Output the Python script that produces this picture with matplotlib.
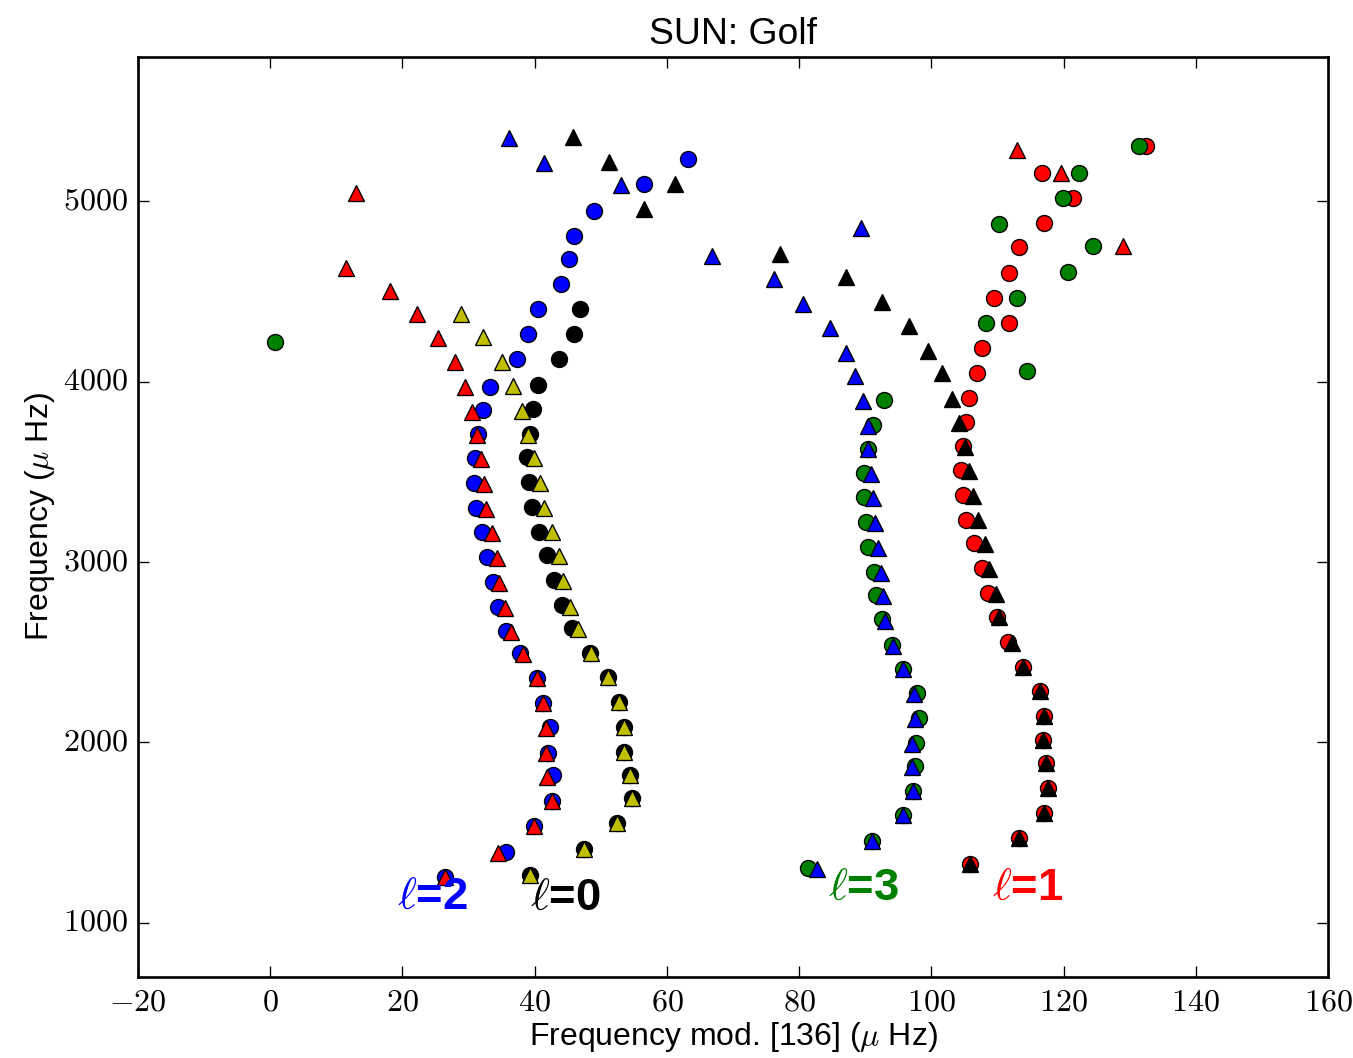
import matplotlib
matplotlib.use('Agg')
import matplotlib.pyplot as plt
from matplotlib.ticker import FuncFormatter, MultipleLocator

# l=0 : circles (black) and triangles (yellow)
l0_obs_x = [39.3, 47.5, 52.5, 54.7, 54.4, 53.5, 53.5, 52.8, 51.1, 48.4, 45.6, 44.1,
            42.9, 41.9, 40.7, 39.6, 39.1, 38.8, 39.3, 39.7, 40.5, 43.7, 45.9, 46.9]
l0_obs_y = [1265, 1410, 1554, 1692, 1820, 1947, 2086, 2224, 2363, 2496, 2635, 2762,
            2901, 3039, 3167, 3305, 3444, 3582, 3710, 3849, 3981, 4126, 4264, 4403]
l0_mod_x = [39.3, 47.5, 52.5, 54.7, 54.4, 53.5, 53.5, 52.8, 51.1, 48.5, 46.6, 45.3,
            44.3, 43.7, 42.6, 41.4, 40.8, 39.9, 39.0, 38.1, 36.7, 35.1, 32.2, 28.9]
l0_mod_y = [1265, 1410, 1554, 1692, 1820, 1947, 2086, 2224, 2363, 2496, 2629, 2751,
            2895, 3034, 3167, 3300, 3438, 3577, 3704, 3840, 3974, 4109, 4248, 4375]

# l=1 : circles (red) and triangles (black)
l1_obs_x = [105.9, 113.3, 117.0, 117.6, 117.3, 116.9, 117.0, 116.4, 113.9, 111.6,
            109.9, 108.6, 107.7, 106.5, 105.2, 104.8, 104.5, 104.8, 105.2, 105.7,
            106.9, 107.7, 111.8, 109.5, 111.8, 113.3, 117.0, 121.4, 116.7, 132.5]
l1_obs_y = [1326, 1471, 1609, 1748, 1886, 2014, 2147, 2285, 2418, 2557,
            2696, 2829, 2967, 3106, 3233, 3372, 3510, 3643, 3777, 3910,
            4048, 4187, 4325, 4464, 4602, 4747, 4880, 5018, 5157, 5306]
l1_mod_x = [105.9, 113.3, 117.0, 117.6, 117.3, 116.9, 117.0, 116.4, 113.9, 112.2,
            110.2, 109.8, 108.7, 108.1, 107.1, 106.3, 105.7, 105.1, 104.2, 103.1,
            101.6, 99.5, 96.6, 92.5, 87.1, 77.1, 56.5, 61.2, 51.2, 45.8]
l1_mod_y = [1326, 1471, 1609, 1748, 1886, 2014, 2147, 2285, 2418, 2551,
            2696, 2823, 2962, 3100, 3233, 3366, 3505, 3638, 3771, 3904,
            4048, 4170, 4309, 4442, 4580, 4708, 4957, 5096, 5218, 5356]

# l=2 : circles (blue) and triangles (red)
l2_obs_x = [26.4, 35.7, 39.9, 42.6, 42.8, 42.0, 42.3, 41.3, 40.4, 37.8, 35.7, 34.5,
            33.7, 32.8, 32.0, 31.1, 30.8, 31.0, 31.4, 32.2, 33.2, 37.3, 39.0, 40.5,
            44.0, 45.2, 45.9, 49.0, 56.5, 63.2]
l2_obs_y = [1254, 1393, 1537, 1676, 1820, 1942, 2086, 2219, 2357, 2496, 2618, 2751,
            2890, 3028, 3167, 3300, 3438, 3577, 3710, 3843, 3971, 4126, 4264, 4403,
            4541, 4680, 4808, 4946, 5096, 5234]
l2_mod_x = [26.4, 34.5, 39.9, 42.6, 41.9, 41.7, 41.7, 41.3, 40.4, 38.2, 36.4, 35.5,
            34.6, 34.3, 33.5, 32.6, 32.3, 31.9, 31.3, 30.5, 29.5, 28.0, 25.4, 22.2,
            18.1, 11.5, 129.0, 13.0, 119.6, 113.0]
l2_mod_y = [1254, 1387, 1537, 1676, 1809, 1942, 2080, 2219, 2357, 2490, 2612, 2745,
            2884, 3023, 3161, 3294, 3433, 3571, 3704, 3832, 3971, 4109, 4242, 4375,
            4503, 4630, 4752, 5046, 5157, 5284]

# l=3 : circles (green) and triangles (blue)
l3_obs_x = [81.3, 91.0, 95.7, 97.2, 97.5, 97.7, 98.1, 97.8, 95.7, 94.1, 92.5, 91.6,
            91.3, 90.4, 90.1, 89.8, 89.8, 90.4, 91.2, 92.8, 114.5, 0.7, 108.3, 113.0,
            120.7, 124.5, 110.2, 119.9, 122.3, 131.4]
l3_obs_y = [1304, 1454, 1598, 1731, 1870, 1997, 2136, 2274, 2407, 2540, 2684, 2818,
            2945, 3084, 3222, 3361, 3494, 3627, 3760, 3898, 4059, 4220, 4325, 4464,
            4608, 4752, 4874, 5018, 5157, 5306]
l3_mod_x = [82.7, 91.0, 95.7, 97.2, 97.1, 97.1, 97.5, 97.4, 95.7, 94.2, 93.0, 92.7,
            92.4, 91.9, 91.5, 91.2, 90.9, 90.4, 90.4, 89.7, 88.5, 87.1, 84.7, 80.6,
            76.2, 66.8, 89.4, 53.1, 41.4, 36.1]
l3_mod_y = [1299, 1454, 1598, 1731, 1864, 1992, 2130, 2269, 2407, 2535, 2673, 2812,
            2940, 3078, 3217, 3355, 3488, 3627, 3754, 3893, 4032, 4159, 4298, 4431,
            4569, 4697, 4852, 5090, 5212, 5351]

degree_labels = [r'$\ell$=2', r'$\ell$=0', r'$\ell$=3', r'$\ell$=1']
label_x = [24.6, 44.6, 89.7, 114.5]
label_y = [1143, 1138, 1193, 1193]
label_colors = ['b', 'k', 'g', 'r']

plt.style.use('classic')
plt.rcParams['font.family'] = ['Liberation Sans', 'DejaVu Sans']
plt.rcParams['mathtext.fontset'] = 'cm'

fig = plt.figure(figsize=(1353 / 192, 1058 / 192), dpi=192, facecolor='white')
ax = fig.add_axes([138 / 1353, 81 / 1058, 1190 / 1353, 920 / 1058])

# circles first, triangles on top
for x, y, c in [(l0_obs_x, l0_obs_y, 'k'), (l1_obs_x, l1_obs_y, 'r'),
                (l2_obs_x, l2_obs_y, 'b'), (l3_obs_x, l3_obs_y, 'g')]:
    ax.plot(x, y, 'o', color=c, mec='k', ms=6, mew=0.5, ls='none')
for x, y, c in [(l0_mod_x, l0_mod_y, 'y'), (l1_mod_x, l1_mod_y, 'k'),
                (l2_mod_x, l2_mod_y, 'r'), (l3_mod_x, l3_mod_y, 'b')]:
    ax.plot(x, y, '^', color=c, mec='k', ms=6, mew=0.5, ls='none')

for txt, tx, ty, c in zip(degree_labels, label_x, label_y, label_colors):
    ax.text(tx, ty, txt, color=c, fontsize=17, fontweight='bold',
            ha='center', va='center')

ax.set_xlim(-20, 160)
ax.set_ylim(700, 5800)
ax.xaxis.set_major_locator(MultipleLocator(20))
ax.yaxis.set_major_locator(MultipleLocator(1000))
fmt = FuncFormatter(lambda v, p: r'$%d$' % v)
ax.xaxis.set_major_formatter(fmt)
ax.yaxis.set_major_formatter(fmt)
ax.tick_params(labelsize=12)

ax.set_title('SUN: Golf', fontsize=14, pad=5)
ax.set_xlabel(r'Frequency mod. [136] ($\mu$ Hz)', fontsize=12, labelpad=1)
ax.set_ylabel(r'Frequency ($\mu$ Hz)', fontsize=12, labelpad=2)

fig.savefig('out.png', dpi=192, facecolor='white')
